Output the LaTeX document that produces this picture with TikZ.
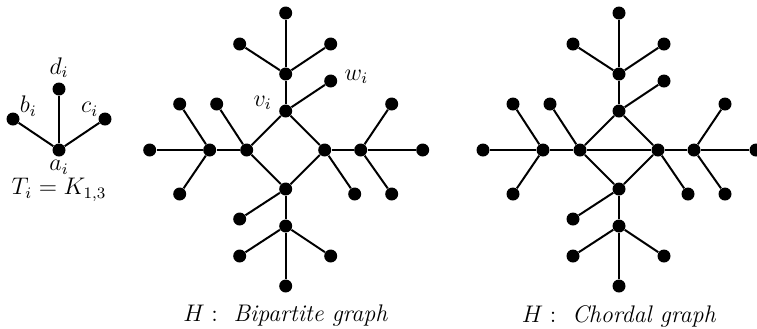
\documentclass[tikz,border=0pt]{standalone}
\usetikzlibrary{positioning}
\tikzstyle{vertex} = [
    circle,
    fill=black,
    inner sep=0pt,
    minimum size=6.5pt
]
\tikzstyle{edge} = [line width=1pt]

\begin{document}
\begin{tikzpicture}[x=0.5pt, y=-0.5pt, font=\large]
\useasboundingbox (0,0) rectangle (757,328);

% the tree T_i
\node (a) [vertex, label={[inner sep=1.5pt]below:$a_i$}] at (59,150) {};
\node (b) [vertex, label={[inner sep=0pt]20:$b_i$}] at (13,119) {};
\node (c) [vertex, label={[inner sep=0pt]160:$c_i$}] at (105,119) {};
\node (d) [vertex, label={[inner sep=2pt]above:$d_i$}] at (59,89) {};
\node (tname) at (59,190) {$T_i = K_{1,3}$};

\draw [edge] (a) -- (b);
\draw [edge] (a) -- (c);
\draw [edge] (a) -- (d);

% the two graphs H
\foreach \g/\cx/\kind in {p/285.7/Bipartite, q/619/Chordal} {
\begin{scope}[shift={(\cx,150)}]
% square
\node (\g-t) [vertex] at (0,-39) {};
\node (\g-l) [vertex] at (-39,0) {};
\node (\g-r) [vertex] at (39,0) {};
\node (\g-b) [vertex] at (0,39) {};
% pendant leaves of the square
\node (\g-tw) [vertex] at (45,-69) {};
\node (\g-lw) [vertex] at (-69,-46) {};
\node (\g-rw) [vertex] at (69,44) {};
\node (\g-bw) [vertex] at (-46,69) {};
% star centres
\node (\g-ts) [vertex] at (0,-76) {};
\node (\g-ls) [vertex] at (-76,0) {};
\node (\g-rs) [vertex] at (75,0) {};
\node (\g-bs) [vertex] at (0,76) {};
% star leaves
\node (\g-ts1) [vertex] at (0,-137) {};
\node (\g-ts2) [vertex] at (-46,-106) {};
\node (\g-ts3) [vertex] at (45,-106) {};
\node (\g-ls1) [vertex] at (-136,0) {};
\node (\g-ls2) [vertex] at (-106,-46) {};
\node (\g-ls3) [vertex] at (-106,44) {};
\node (\g-rs1) [vertex] at (137,0) {};
\node (\g-rs2) [vertex] at (106,-46) {};
\node (\g-rs3) [vertex] at (106,44) {};
\node (\g-bs1) [vertex] at (0,136) {};
\node (\g-bs2) [vertex] at (-46,106) {};
\node (\g-bs3) [vertex] at (45,106) {};

\node (\g-name) at (0,166) {$H:$~ \textit{\kind\ graph}};

\draw [edge] (\g-t) -- (\g-l) -- (\g-b) -- (\g-r) -- (\g-t);
\draw [edge] (\g-t) -- (\g-tw);
\draw [edge] (\g-l) -- (\g-lw);
\draw [edge] (\g-r) -- (\g-rw);
\draw [edge] (\g-b) -- (\g-bw);
\draw [edge] (\g-t) -- (\g-ts);
\draw [edge] (\g-l) -- (\g-ls);
\draw [edge] (\g-r) -- (\g-rs);
\draw [edge] (\g-b) -- (\g-bs);
\draw [edge] (\g-ts) -- (\g-ts1);
\draw [edge] (\g-ts) -- (\g-ts2);
\draw [edge] (\g-ts) -- (\g-ts3);
\draw [edge] (\g-ls) -- (\g-ls1);
\draw [edge] (\g-ls) -- (\g-ls2);
\draw [edge] (\g-ls) -- (\g-ls3);
\draw [edge] (\g-rs) -- (\g-rs1);
\draw [edge] (\g-rs) -- (\g-rs2);
\draw [edge] (\g-rs) -- (\g-rs3);
\draw [edge] (\g-bs) -- (\g-bs1);
\draw [edge] (\g-bs) -- (\g-bs2);
\draw [edge] (\g-bs) -- (\g-bs3);
\end{scope}
}

% labels and chord
\node (vlabel) [left=0pt of p-t, yshift=4pt] {$v_i$};
\node (wlabel) [right=0pt of p-tw, yshift=2pt] {$w_i$};
\draw [edge] (q-l) -- (q-r);

\end{tikzpicture}
\end{document}
